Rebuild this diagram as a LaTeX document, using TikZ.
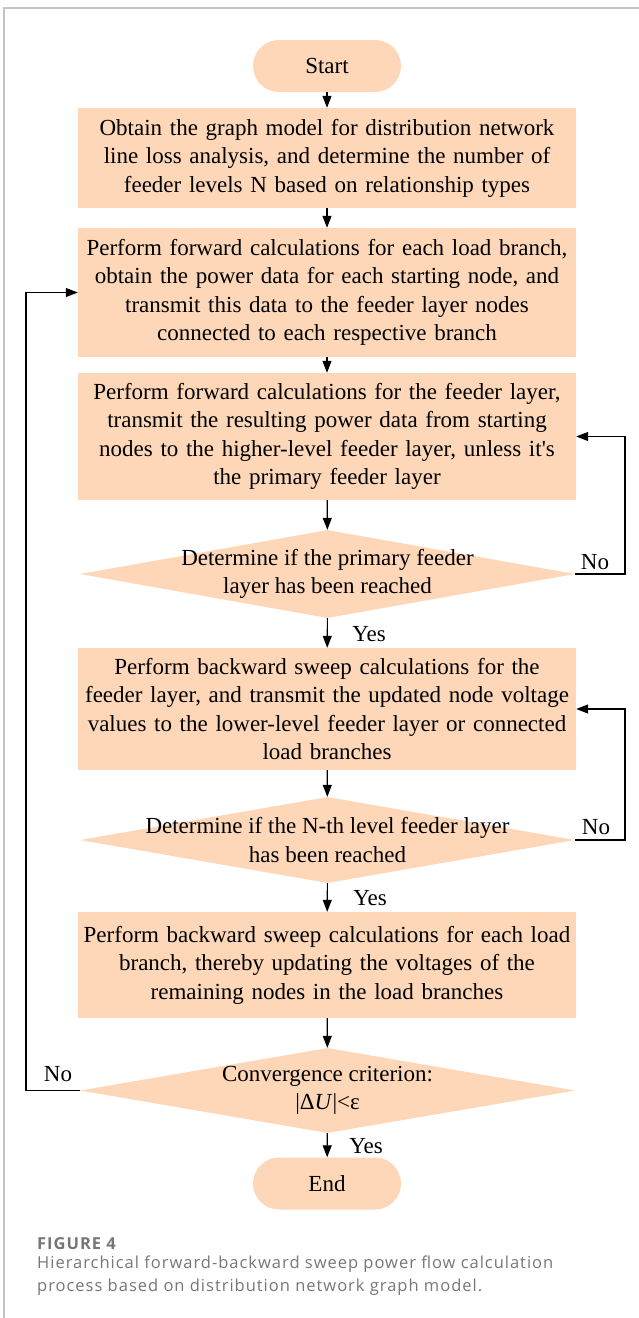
\documentclass[tikz,border=0pt]{standalone}
\usepackage{fontspec}
\setmainfont{Liberation Serif}
\newfontfamily\capfont[LetterSpace=6]{Open Sans}
\usetikzlibrary{arrows.meta,shapes.geometric}
\definecolor{peach}{RGB}{253,215,184}
\definecolor{capgray}{RGB}{118,118,118}
\definecolor{framegray}{RGB}{195,195,195}
\begin{document}
\begin{tikzpicture}[x=1pt,y=-1pt,
  every node/.style={font=\fontsize{23}{28.5}\selectfont},
  procbox/.style={fill=peach, minimum width=498pt, minimum height=#1, inner sep=0pt, text width=498pt, align=center},
  termbox/.style={fill=peach, rounded corners=26pt, minimum width=148pt, minimum height=52pt, inner sep=0pt},
  decbox/.style={diamond, fill=peach, minimum width=495pt, minimum height=#1, inner sep=0pt},
  dectext/.style={align=center, inner sep=0pt},
  lbl/.style={inner sep=0pt},
  arr/.style={line width=1.1pt, -{Triangle[length=12pt,width=9pt]}},
  captext/.style={font=\capfont\fontsize{16.5}{23}\selectfont, text=capgray, anchor=west, inner sep=0pt}
]
\useasboundingbox (0,0) rectangle (639,1318);
\draw[framegray, line width=1.2pt] (639,8) -- (4,8) -- (4,1318);

\node[termbox] (start) at (327,66) {Start};
\node[procbox=100pt] (b1) at (327,158) {Obtain the graph model for distribution network\\line loss analysis, and determine the number of\\feeder levels N based on relationship types};
\node[procbox=129pt] (b2) at (327,292.5) {Perform forward calculations for each load branch,\\obtain the power data for each starting node, and\\transmit this data to the feeder layer nodes\\connected to each respective branch};
\node[procbox=127pt] (b3) at (327,436.5) {Perform forward calculations for the feeder layer,\\transmit the resulting power data from starting\\nodes to the higher-level feeder layer, unless it\textquotesingle s\\the primary feeder layer};
\node[decbox=88pt] (d1) at (327.5,574) {};
\node[dectext] (d1t) at (d1.center) {Determine if the primary feeder\\layer has been reached};
\node[procbox=122pt] (b4) at (327,709) {Perform backward sweep calculations for the\\feeder layer, and transmit the updated node voltage\\values to the lower-level feeder layer or connected\\load branches};
\node[decbox=86pt] (d2) at (327.5,840) {};
\node[dectext] (d2t) at (d2.center) {Determine if the N-th level feeder layer\\has been reached};
\node[procbox=106pt] (b5) at (327,965) {Perform backward sweep calculations for each load\\branch, thereby updating the voltages of the\\remaining nodes in the load branches};
\node[decbox=85pt] (d3) at (327.5,1090.5) {};
\node[dectext] (d3t) at (d3.center) {Convergence criterion:\\|Δ\textit{U}|<ε};
\node[termbox] (end) at (327,1183.5) {End};

\draw[arr] (start) -- (b1);
\draw[arr] (b1) -- (b2);
\draw[arr] (b2) -- (b3);
\draw[arr] (b3) -- (d1);
\draw[arr] (d1) -- (b4);
\draw[arr] (b4) -- (d2);
\draw[arr] (d2) -- (b5);
\draw[arr] (b5) -- (d3);
\draw[arr] (d3) -- (end);

\draw[arr] (d1.east) -- (625,574) |- (b3.east);
\draw[arr] (d2.east) -- (625,840) |- (b4.east);
\draw[arr] (d3.west) -- (26,1090.5) |- (b2.west);

\node[lbl] (no1) at (595,562) {No};
\node[lbl] (no2) at (596,827) {No};
\node[lbl] (no3) at (58,1074) {No};
\node[lbl] (yes1) at (369,634) {Yes};
\node[lbl] (yes2) at (370,898) {Yes};
\node[lbl] (yes3) at (366,1146) {Yes};

\node[captext] (capA) at (37,1244) {\bfseries FIGURE 4};
\node[captext] (capB) at (37,1264) {Hierarchical forward-backward sweep power flow calculation};
\node[captext] (capC) at (37,1287) {process based on distribution network graph model.};
\end{tikzpicture}
\end{document}
